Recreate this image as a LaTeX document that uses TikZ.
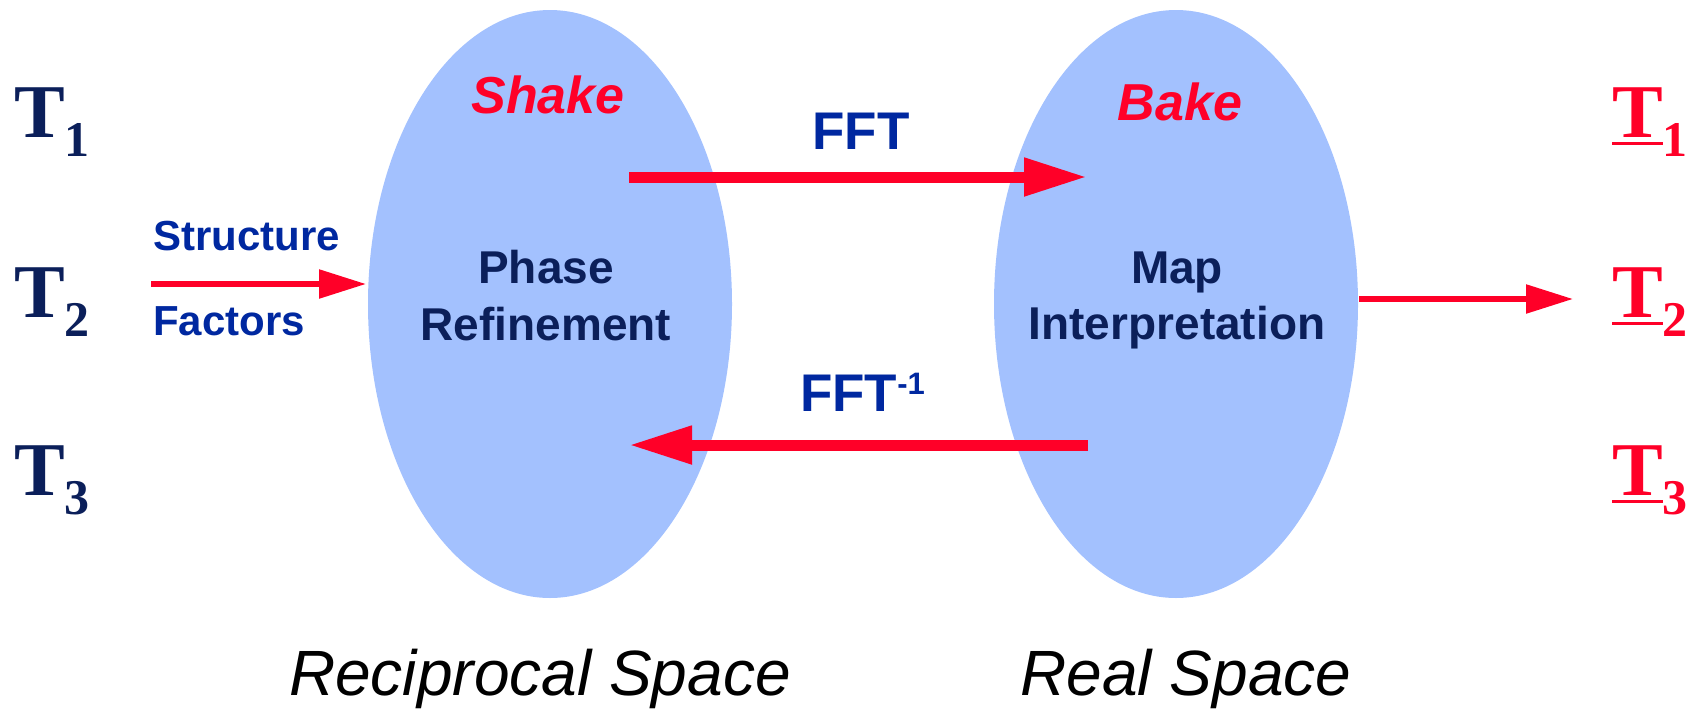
\documentclass[tikz,border=0pt]{standalone}
\usepackage{fontspec}
\setmainfont{Liberation Serif}
\newfontfamily\arialf{Liberation Sans}
\usetikzlibrary{arrows.meta,shapes.geometric}

\definecolor{lens}{RGB}{163,193,254}
\definecolor{hot}{RGB}{255,0,40}
\definecolor{navy}{RGB}{11,31,90}
\definecolor{royal}{RGB}{0,40,160}

\newcommand\fsz[1]{\fontsize{#1}{#1}\selectfont}
% T with a lowered index
\newcommand\tidx[1]{{\fsz{76}\bfseries T}\raisebox{-19pt}{\fsz{50}\bfseries #1}}
% underlined T with a lowered index
\newcommand\tulidx[1]{\setbox0\hbox{\fsz{76}\bfseries T}%
  \rlap{\rule[-7.5pt]{\wd0}{3pt}}\box0\raisebox{-19pt}{\fsz{50}\bfseries #1}}

\tikzset{
  space/.style={ellipse, fill=lens, draw=none, inner sep=0,
    minimum width=364pt, minimum height=588pt},
  lbl/.style={inner sep=0, anchor=base},
  bigflow/.style={draw=hot, line width=11pt,
    -{Triangle[length=63pt, width=36pt]}},
  smallflow/.style={draw=hot, line width=5.5pt,
    -{Triangle[length=47pt, width=28pt]}},
}

\begin{document}
\begin{tikzpicture}[x=1pt, y=-1pt]
\useasboundingbox (0,0) rectangle (1698,710);

% the two spaces
\node[space] (recip) at (550,304) {};
\node[space] (real)  at (1176,304) {};

% texts inside the ellipses
\node[lbl, text=hot, font=\arialf\fsz{52}\bfseries\itshape] (shake) at (548,113) {Shake};
\node[lbl, text=hot, font=\arialf\fsz{52}\bfseries\itshape] (bake) at (1180,120) {Bake};
\node[lbl, text=navy, font=\arialf\fsz{46}\bfseries] (phase) at (546,283) {Phase};
\node[lbl, text=navy, font=\arialf\fsz{46}\bfseries] (refine) at (546,340) {Refinement};
\node[lbl, text=navy, font=\arialf\fsz{46}\bfseries] (map) at (1177,283) {Map};
\node[lbl, text=navy, font=\arialf\fsz{46}\bfseries] (interp) at (1177,339) {Interpretation};

% captions below
\node[lbl, text=black, font=\arialf\fsz{64}\itshape] (reccap) at (540,695) {Reciprocal Space};
\node[lbl, text=black, font=\arialf\fsz{64}\itshape] (realcap) at (1186,695) {Real Space};

% transform labels
\node[lbl, text=royal, font=\arialf\fsz{53}\bfseries] (fft) at (861,149) {FFT};
\node[lbl, anchor=base west, text=royal, font=\arialf\fsz{53}\bfseries] (ifft) at (800,411)
  {FFT\raisebox{17pt}{\fsz{31}-1}};

% input label
\node[lbl, anchor=base west, text=royal, font=\arialf\fsz{42}\bfseries] (sf1) at (153,250) {Structure};
\node[lbl, anchor=base west, text=royal, font=\arialf\fsz{42}\bfseries] (sf2) at (153,335) {Factors};

% trial structures, left and right
\node[lbl, anchor=base west, text=navy] (t1) at (14,137) {\tidx{1}};
\node[lbl, anchor=base west, text=navy] (t2) at (14,317) {\tidx{2}};
\node[lbl, anchor=base west, text=navy] (t3) at (14,495) {\tidx{3}};
\node[lbl, anchor=base west, text=hot] (u1) at (1612,137) {\tulidx{1}};
\node[lbl, anchor=base west, text=hot] (u2) at (1612,317) {\tulidx{2}};
\node[lbl, anchor=base west, text=hot] (u3) at (1612,495) {\tulidx{3}};

% arrow end points
\coordinate (sfin)  at (151,284);
\coordinate (sfout) at (366,284);
\coordinate (fwdA)  at (629,177);
\coordinate (fwdB)  at (1087,177);
\coordinate (bwdA)  at (1088,445);
\coordinate (bwdB)  at (629,445);
\coordinate (outA)  at (1359,299);
\coordinate (outB)  at (1573,299);

\draw[smallflow] (sfin) -- (sfout);
\draw[bigflow] (fwdA) -- (fwdB);
\draw[bigflow] (bwdA) -- (bwdB);
\draw[smallflow] (outA) -- (outB);
\end{tikzpicture}
\end{document}
